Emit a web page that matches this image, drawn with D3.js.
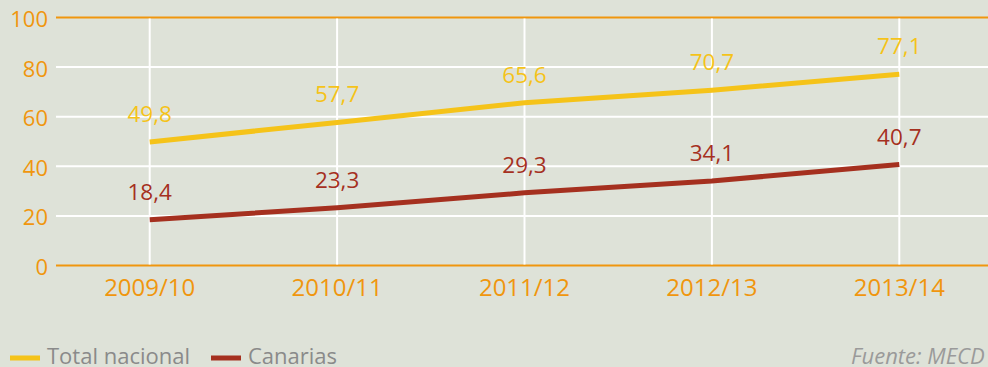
<!DOCTYPE html>
<html>
<head>
<meta charset="utf-8">
<script src="https://cdn.jsdelivr.net/npm/d3@7"></script>
<style>
  html, body { margin: 0; padding: 0; background: #dee2d8; overflow: hidden; }
  svg { display: block; font-family: "Open Sans", "Noto Sans", sans-serif; }
</style>
</head>
<body>
<svg id="chart" width="988" height="367"></svg>
<script>
// Curso académico
const categories = ["2009/10", "2010/11", "2011/12", "2012/13", "2013/14"];
// Porcentajes por curso
const totalNacional = [49.8, 57.7, 65.6, 70.7, 77.1];
const canarias = [18.4, 23.3, 29.3, 34.1, 40.7];
const yTicks = [0, 20, 40, 60, 80, 100];
const seriesNames = ["Total nacional", "Canarias"];

const colors = {
  bg: "#dee2d8",
  axis: "#f0960e",
  grid: "#ffffff",
  total: "#f5c319",
  canarias: "#a5301f",
  legendText: "#8a8a8a"
};

const svg = d3.select("#chart");
const plot = { left: 56, right: 993, top: 17.5, bottom: 265.5 };

const x = d3.scaleBand().domain(categories).range([plot.left, plot.right]).paddingInner(0).paddingOuter(0);
const xc = d => x(d) + x.bandwidth() / 2;
const y = d3.scaleLinear().domain([0, 100]).range([plot.bottom, plot.top]);

const fmt = v => d3.format(".1f")(v).replace(".", ",");

// Horizontal gridlines
svg.append("g").selectAll("line")
  .data(yTicks)
  .join("line")
  .attr("x1", plot.left).attr("x2", 988)
  .attr("y1", d => y(d)).attr("y2", d => y(d))
  .attr("stroke", d => (d === 0 || d === 100) ? colors.axis : colors.grid)
  .attr("stroke-width", 2);

// Vertical gridlines at each category
svg.append("g").selectAll("line")
  .data(categories)
  .join("line")
  .attr("x1", d => xc(d)).attr("x2", d => xc(d))
  .attr("y1", y(100) + 1).attr("y2", y(0) - 1)
  .attr("stroke", colors.grid)
  .attr("stroke-width", 2);

// Y tick labels
svg.append("g").selectAll("text")
  .data(yTicks)
  .join("text")
  .attr("x", 48)
  .attr("y", d => y(d) + 9.5)
  .attr("text-anchor", "end")
  .attr("fill", colors.axis)
  .attr("font-size", 22)
  .text(d => d);

// X tick labels
svg.append("g").selectAll("text")
  .data(categories)
  .join("text")
  .attr("x", d => xc(d))
  .attr("y", 296)
  .attr("text-anchor", "middle")
  .attr("fill", colors.axis)
  .attr("font-size", 24)
  .text(d => d);

const line = d3.line().x((d, i) => xc(categories[i])).y(d => y(d));

const series = [
  { name: seriesNames[0], values: totalNacional, color: colors.total },
  { name: seriesNames[1], values: canarias, color: colors.canarias }
];

series.forEach(s => {
  svg.append("path")
    .datum(s.values)
    .attr("d", line)
    .attr("fill", "none")
    .attr("stroke", s.color)
    .attr("stroke-width", 5);

  svg.append("g").selectAll("text")
    .data(s.values)
    .join("text")
    .attr("x", (d, i) => xc(categories[i]))
    .attr("y", d => y(d) - 20)
    .attr("text-anchor", "middle")
    .attr("fill", s.color)
    .attr("font-size", 22.5)
    .text(d => fmt(d));
});

// Legend
const legend = svg.append("g");
const legendItems = [
  { x: 10, color: colors.total, label: seriesNames[0] },
  { x: 211, color: colors.canarias, label: seriesNames[1] }
];
legendItems.forEach(it => {
  legend.append("line")
    .attr("x1", it.x).attr("x2", it.x + 30)
    .attr("y1", 358).attr("y2", 358)
    .attr("stroke", it.color).attr("stroke-width", 5);
  legend.append("text")
    .attr("x", it.x + 37).attr("y", 364)
    .attr("fill", colors.legendText)
    .attr("font-size", 22)
    .text(it.label);
});

svg.append("text")
  .attr("x", 851).attr("y", 364)
  .attr("fill", "#9a9a9a")
  .attr("font-size", 22)
  .attr("font-style", "italic")
  .text("Fuente: MECD");
</script>
</body>
</html>
